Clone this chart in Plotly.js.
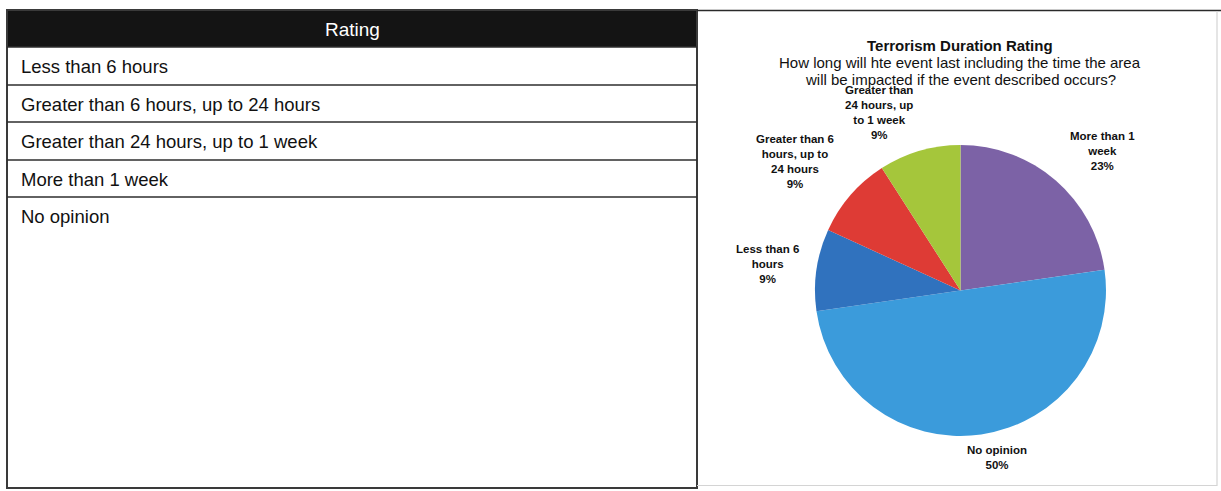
<!DOCTYPE html>
<html>
<head>
<meta charset="utf-8">
<script src="https://cdn.plot.ly/plotly-3.0.1.min.js"></script>
<style>
  html, body { margin: 0; padding: 0; background: #fff; }
  #chart { width: 1221px; height: 491px; }
</style>
</head>
<body>
<div id="chart"></div>
<script>
// Rating scale shown in the table on the left
const tableHeader = "Rating";
const ratingRows = [
  "Less than 6 hours",
  "Greater than 6 hours, up to 24 hours",
  "Greater than 24 hours, up to 1 week",
  "More than 1 week",
  "No opinion"
];

// Pie slices, in drawing order (clockwise from 12 o'clock)
const sliceLabels = [
  "More than 1 week",
  "No opinion",
  "Less than 6 hours",
  "Greater than 6 hours, up to 24 hours",
  "Greater than 24 hours, up to 1 week"
];
const sliceCounts = [5, 11, 2, 2, 2];
const sliceColors = ["#7C62A6", "#3B9BDB", "#3072BE", "#DE3B35", "#A5C63B"];
// Wrapped label text used beside each slice
const sliceLabelLines = [
  ["More than 1", "week"],
  ["No opinion"],
  ["Less than 6", "hours"],
  ["Greater than 6", "hours, up to", "24 hours"],
  ["Greater than", "24 hours, up", "to 1 week"]
];

const chartTitle = "Terrorism Duration Rating";
const chartSubtitle = ["How long will hte event last including the time the area",
                       "will be impacted if the event described occurs?"];

const W = 1221, H = 491;
const FONT = "Liberation Sans, Arial, Helvetica, sans-serif";

const total = sliceCounts.reduce((a, b) => a + b, 0);
const pct = sliceCounts.map(v => Math.round(v / total * 100) + "%");

// label anchor positions (pixel coordinates)
const labelPos = [
  [1102, 151],
  [997, 457],
  [767, 264],
  [795, 161],
  [879, 112]
];

const shapes = [];
const annotations = [];

// --- table ---
const tLeft = 7, tRight = 697, tTop = 10, tBottom = 488;
const rowEdges = [47, 85, 122, 160, 197];
shapes.push({type: "rect", xref: "x", yref: "y", x0: tLeft, x1: tRight, y0: tTop, y1: rowEdges[0],
             fillcolor: "#141414", line: {width: 0}, layer: "below"});
shapes.push({type: "rect", xref: "x", yref: "y", x0: tLeft, x1: tRight, y0: tTop, y1: tBottom,
             fillcolor: "rgba(0,0,0,0)", line: {color: "#3a3a3a", width: 2}});
rowEdges.forEach(y => shapes.push({type: "line", xref: "x", yref: "y", x0: tLeft, x1: tRight, y0: y, y1: y,
                                   line: {color: "#2e2e2e", width: 1.6}}));
annotations.push({xref: "x", yref: "y", x: (tLeft + tRight) / 2, y: (tTop + rowEdges[0]) / 2 + 1,
                  text: tableHeader, showarrow: false, xanchor: "center", yanchor: "middle",
                  font: {family: FONT, size: 19, color: "#ffffff"}});
const rowCenters = [66, 104, 141, 179, 216];
ratingRows.forEach((r, i) => annotations.push({
  xref: "x", yref: "y", x: 19, y: rowCenters[i], text: r, showarrow: false,
  xanchor: "left", yanchor: "middle", font: {family: FONT, size: 18.5, color: "#111111"}
}));

// --- chart panel frame ---
shapes.push({type: "line", xref: "x", yref: "y", x0: tRight, x1: W, y0: 10.5, y1: 10.5,
             line: {color: "#2a2a2a", width: 1.6}});
shapes.push({type: "line", xref: "x", yref: "y", x0: 1217, x1: 1217, y0: 11, y1: 486,
             line: {color: "#d4d4d4", width: 1.2}});
shapes.push({type: "line", xref: "x", yref: "y", x0: tRight, x1: 1217, y0: 485.5, y1: 485.5,
             line: {color: "#d4d4d4", width: 1.2}});

// --- chart titles ---
annotations.push({xref: "x", yref: "y", x: 960, y: 45, text: "<b>" + chartTitle + "</b>", showarrow: false,
                  xanchor: "center", yanchor: "middle", font: {family: FONT, size: 15, color: "#111"}});
chartSubtitle.forEach((line, i) => annotations.push({
  xref: "x", yref: "y", x: 960, y: 62 + i * 17, text: line, showarrow: false,
  xanchor: "center", yanchor: "middle", font: {family: FONT, size: 15, color: "#111"}
}));

// --- slice labels ---
sliceLabels.forEach((name, i) => {
  const lines = sliceLabelLines[i].concat([pct[i]]);
  annotations.push({
    xref: "x", yref: "y", x: labelPos[i][0], y: labelPos[i][1],
    text: "<b>" + lines.join("<br>") + "</b>", showarrow: false,
    xanchor: "center", yanchor: "middle", align: "center",
    font: {family: FONT, size: 11.5, color: "#111"}
  });
});

// pie placement: centre (960.5, 290.5), radius 145.5
const cx = 960.5, cy = 290.5, r = 145.5;
const pie = {
  type: "pie",
  labels: sliceLabels,
  values: sliceCounts,
  sort: false,
  direction: "clockwise",
  rotation: 0,
  marker: {colors: sliceColors, line: {width: 0}},
  textinfo: "none",
  hoverinfo: "label+percent",
  showlegend: false,
  domain: {x: [(cx - r) / W, (cx + r) / W], y: [(H - cy - r) / H, (H - cy + r) / H]}
};

const layout = {
  width: W, height: H,
  margin: {l: 0, r: 0, t: 0, b: 0},
  paper_bgcolor: "#ffffff", plot_bgcolor: "rgba(0,0,0,0)",
  showlegend: false,
  xaxis: {range: [0, W], visible: false, fixedrange: true, domain: [0, 1]},
  yaxis: {range: [H, 0], visible: false, fixedrange: true, domain: [0, 1]},
  shapes: shapes,
  annotations: annotations
};

Plotly.newPlot("chart", [pie], layout, {displayModeBar: false, staticPlot: true});
</script>
</body>
</html>
